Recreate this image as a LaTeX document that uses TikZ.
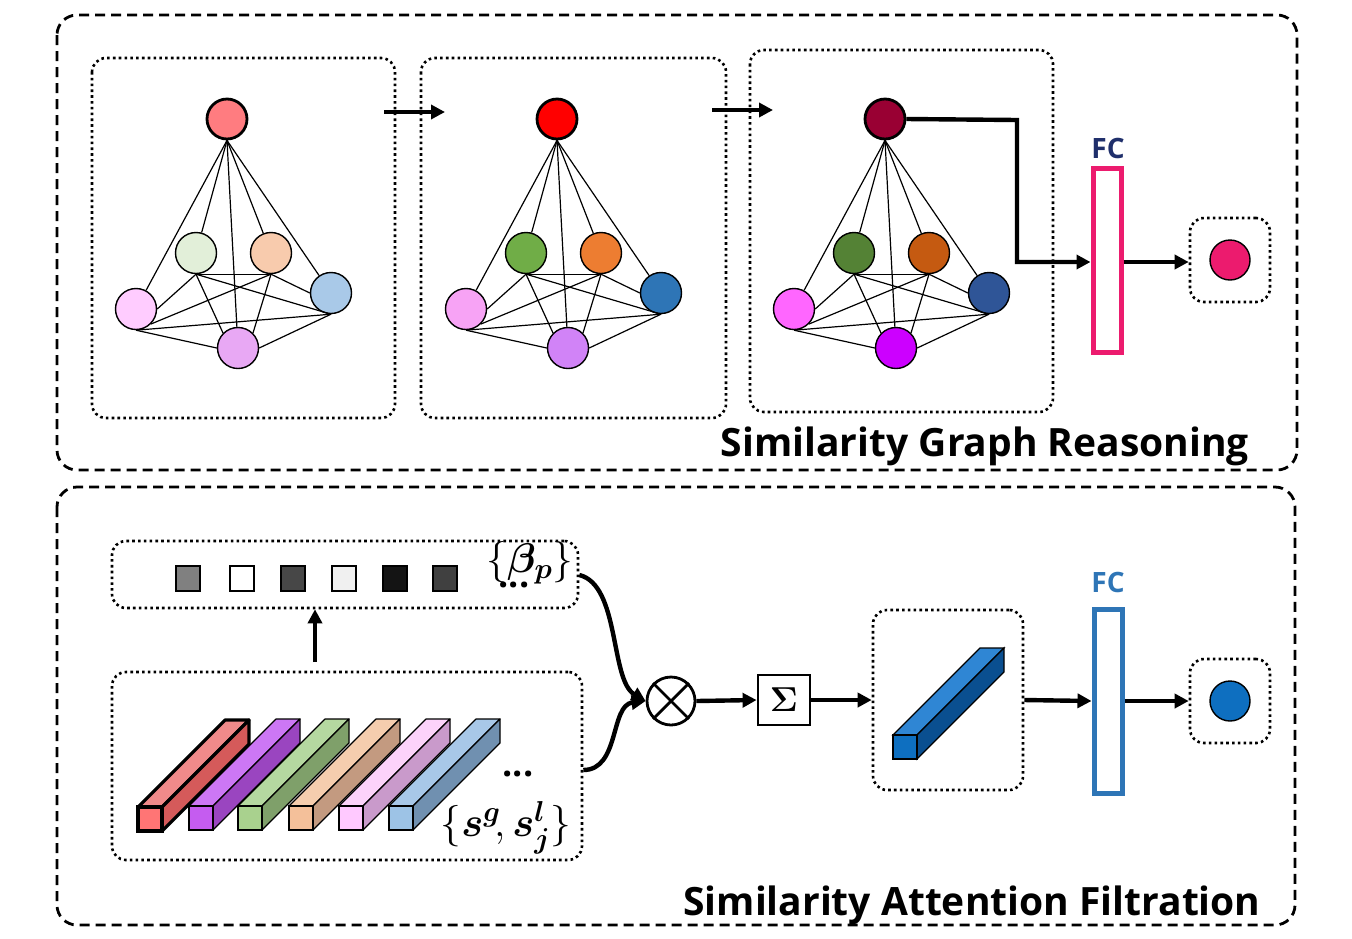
\documentclass[tikz,border=0pt]{standalone}
\usepackage{fontspec}
\setmainfont{Open Sans}
\usepackage{amsmath,bm}
\usetikzlibrary{arrows.meta}
\newcommand\mycub[6]{% x y front top side linewidth
 \draw[line width=#6,line join=round,fill=#4] (#1,#2) -- ++(87,-87) -- ++(24,0) -- ++(-87,87) -- cycle;
 \draw[line width=#6,line join=round,fill=#5] (#1+24,#2) -- ++(87,-87) -- ++(0,24) -- ++(-87,87) -- cycle;
 \draw[line width=#6,fill=#3] (#1,#2) rectangle ++(24,24);}
\begin{document}
\begin{tikzpicture}[x=0.5pt,y=-0.5pt,
 outer/.style={draw,line width=1.4pt,dash pattern=on 5pt off 3pt,rounded corners=10pt},
 dot/.style={draw,line width=1.3pt,dash pattern=on 1.3pt off 1.6pt,rounded corners=7pt},
 gn/.style={circle,draw,line width=0.7pt,minimum size=20.5pt,inner sep=0pt},
 tn/.style={circle,draw,line width=1.4pt,minimum size=20pt,inner sep=0pt},
 ar/.style={line width=2.2pt,-{Triangle[length=7pt,width=7pt]}},
 ed/.style={line width=0.6pt},
 title/.style={font=\fontsize{19.5}{19.5}\selectfont\bfseries}]
\useasboundingbox (0,0) rectangle (1352,938);
\draw[outer] (57,15) rectangle (1297,470);
\draw[outer] (57,487) rectangle (1295,925);
% graph boxes
\draw[dot] (92,58) rectangle (395,418);
\draw[dot] (421,58) rectangle (726,418);
\draw[dot] (750,50) rectangle (1053,412);
\definecolor{g1t}{HTML}{FF7C80}\definecolor{g1ml}{HTML}{E2EFD9}\definecolor{g1mr}{HTML}{F8CBAD}\definecolor{g1l}{HTML}{FFCCFF}\definecolor{g1r}{HTML}{A9C9E8}\definecolor{g1b}{HTML}{E8A8F4}
\definecolor{g2t}{HTML}{FF0000}\definecolor{g2ml}{HTML}{70AD47}\definecolor{g2mr}{HTML}{ED7D31}\definecolor{g2l}{HTML}{F7A3F5}\definecolor{g2r}{HTML}{2E75B6}\definecolor{g2b}{HTML}{D183F7}
\definecolor{g3t}{HTML}{990033}\definecolor{g3ml}{HTML}{548235}\definecolor{g3mr}{HTML}{C55A11}\definecolor{g3l}{HTML}{FF66FF}\definecolor{g3r}{HTML}{2F5597}\definecolor{g3b}{HTML}{CC00FF}
\foreach \g/\dx in {1/0,2/330,3/658}{
 \begin{scope}[xshift=\dx*0.5pt]
 \node[gn,fill=g\g ml] (\g ml) at (196,253) {};
 \node[gn,fill=g\g mr] (\g mr) at (271,253) {};
 \node[gn,fill=g\g l] (\g l) at (136,309) {};
 \node[gn,fill=g\g r] (\g r) at (331,293) {};
 \node[gn,fill=g\g b] (\g b) at (238,348) {};
 \node[tn,fill=g\g t] (\g t) at (227,119) {};
 \end{scope}
 \foreach \u in {ml,mr,l,r,b} \draw[ed] (\g t.south) -- (\g\u);
 \draw[ed] (\g ml.south) -- (\g mr.south);
 \draw[ed] (\g ml.south) -- (\g l.east); \draw[ed] (\g ml.south) -- (\g b.north west); \draw[ed] (\g ml.south) -- (\g r.south);
 \draw[ed] (\g mr.south) -- (\g l.south east); \draw[ed] (\g mr.south) -- (\g b.north east); \draw[ed] (\g mr.south) -- (\g r.west);
 \draw[ed] (\g l.south) -- (\g r.south); \draw[ed] (\g l.south) -- (\g b.west); \draw[ed] (\g r.south) -- (\g b.east);
}
\coordinate (a1) at (384,112); \coordinate (a2) at (445,112);
\coordinate (b1) at (712,110); \coordinate (b2) at (773,110);
\draw[ar] (a1) -- (a2); \draw[ar] (b1) -- (b2);
% FC top
\definecolor{fcpink}{HTML}{EC1B6E}\definecolor{fcblue}{HTML}{2E75B6}\definecolor{navy}{HTML}{1F2F6B}
\node[draw=fcpink,line width=2.5pt,minimum width=14pt,minimum height=92pt,inner sep=0pt] (fc1) at (1107,260) {};
\node[font=\fontsize{14}{14}\selectfont\bfseries,text=navy] at (1108,148) {FC};
\draw[ar] (3t.east) -- (1017,120) -- (1017,262) -- (fc1.west|-0,262);
\node[dot,minimum width=40pt,minimum height=42pt] (o1) at (1230,260) {};
\node[circle,fill=fcpink,draw,line width=0.7pt,minimum size=20pt,inner sep=0pt] at (1230,260) {};
\draw[ar] (fc1.east|-0,262) -- (o1.west|-0,262);
\node[title,anchor=base] at (985,456) {Similarity Graph Reasoning};
% bottom
\node[dot,minimum width=233pt,minimum height=33.5pt,inner sep=0pt] (beta) at (345,574.5) {};
\foreach \x/\c in {188/black!50,242/white,293/black!72,344/black!6,395/black!92,445/black!75}
 \draw[line width=0.8pt,fill=\c] (\x-12,566) rectangle (\x+12,591);
\node at (530,563) {\fontsize{21}{21}\selectfont$\{\bm{\beta}_{\bm{p}}\}$};
\node[font=\fontsize{18}{18}\selectfont\bfseries] at (514,585) {...};
\node[dot,minimum width=235pt,minimum height=94pt,inner sep=0pt] (cub) at (347,766) {};
\draw[ar] (315,662) -- (beta.south-|315,0);
\definecolor{c1}{HTML}{FF7575}\definecolor{c1t}{HTML}{F08A8A}\definecolor{c1s}{HTML}{D55A5A}
\definecolor{c2}{HTML}{C55CF0}\definecolor{c2t}{HTML}{CC77F5}\definecolor{c2s}{HTML}{9A45C0}
\definecolor{c3}{HTML}{A9D18E}\definecolor{c3t}{HTML}{B5D8A0}\definecolor{c3s}{HTML}{7FA06A}
\definecolor{c4}{HTML}{F4C09A}\definecolor{c4t}{HTML}{F5CDAE}\definecolor{c4s}{HTML}{C39A80}
\definecolor{c5}{HTML}{FFC9FF}\definecolor{c5t}{HTML}{FCD3FA}\definecolor{c5s}{HTML}{C99ACB}
\definecolor{c6}{HTML}{9DC3E6}\definecolor{c6t}{HTML}{A8C8E8}\definecolor{c6s}{HTML}{7090B0}
\mycub{138}{807}{c1}{c1t}{c1s}{1.6pt}
\mycub{189}{806}{c2}{c2t}{c2s}{0.6pt}
\mycub{238}{806}{c3}{c3t}{c3s}{0.6pt}
\mycub{289}{806}{c4}{c4t}{c4s}{0.6pt}
\mycub{339}{806}{c5}{c5t}{c5s}{0.6pt}
\mycub{389}{806}{c6}{c6t}{c6s}{0.6pt}
\node[font=\fontsize{18}{18}\selectfont\bfseries] at (518,774) {...};
\node at (506,828) {\fontsize{22}{22}\selectfont$\{\bm{s}^{\bm{g}}\!,\bm{s}_{\bm{j}}^{\bm{l}}\}$};
\node[circle,draw,line width=1.4pt,minimum size=24pt,inner sep=0pt] (ot) at (671,701) {};
\draw[line width=1.4pt] (ot.north west) -- (ot.south east) (ot.north east) -- (ot.south west);
\draw[ar] (beta.east|-0,575) .. controls (620,585) and (610,680) .. (ot.west);
\draw[ar] (cub.east|-0,770) .. controls (620,770) and (610,705) .. (ot.west);
\node[draw,line width=1.4pt,minimum width=26pt,minimum height=25pt,inner sep=0pt,font=\fontsize{16}{16}\selectfont] (sig) at (784,700) {$\bm\Sigma$};
\draw[ar] (ot.east) -- (sig.west);
\node[dot,minimum width=75pt,minimum height=90pt,inner sep=0pt] (vb) at (948,700) {};
\draw[ar] (sig.east) -- (vb.west);
\definecolor{b1}{HTML}{0E6FC0}\definecolor{b1t}{HTML}{2F86D4}\definecolor{b1s}{HTML}{0A4F90}
\draw[line width=0.6pt,fill=b1t] (893,735) -- ++(87,-87) -- ++(24,0) -- ++(-87,87) -- cycle;
\draw[line width=0.6pt,fill=b1s] (917,735) -- ++(87,-87) -- ++(0,24) -- ++(-87,87) -- cycle;
\draw[line width=0.6pt,fill=b1] (893,735) rectangle ++(24,24);
\node[draw=fcblue,line width=2.5pt,minimum width=14pt,minimum height=92pt,inner sep=0pt] (fc2) at (1108,701) {};
\node[font=\fontsize{14}{14}\selectfont\bfseries,text=fcblue] at (1108,582) {FC};
\draw[ar] (vb.east) -- (fc2.west);
\node[dot,minimum width=40pt,minimum height=42pt] (o2) at (1230,701) {};
\node[circle,fill=b1,draw,line width=0.7pt,minimum size=20pt,inner sep=0pt] at (1230,701) {};
\draw[ar] (fc2.east) -- (o2.west);
\node[title,anchor=base] at (972,915) {Similarity Attention Filtration};
\end{tikzpicture}
\end{document}
